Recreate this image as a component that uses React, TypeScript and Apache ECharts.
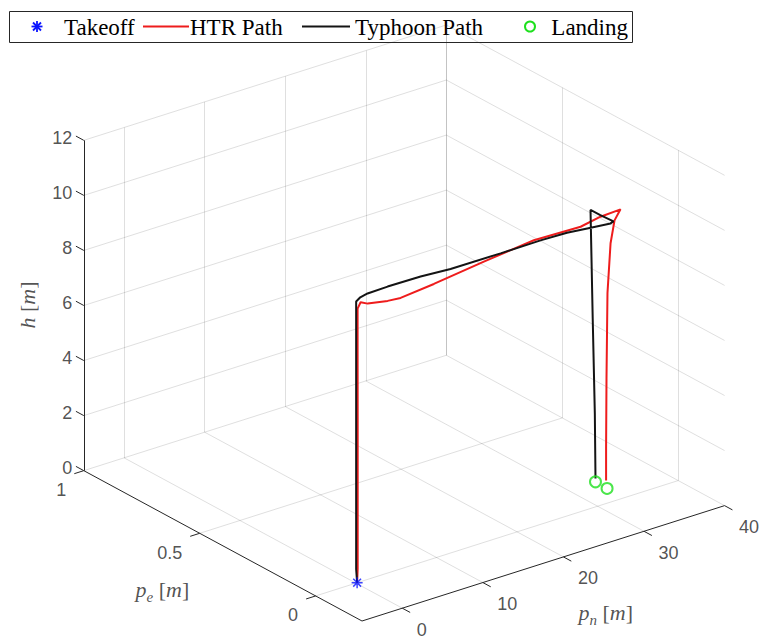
import React, { useEffect, useRef } from 'react';
import * as echarts from 'echarts';

const W = 764;
const H = 639;

// Axis limits and ticks
const pnLim = [-5, 40];
const peLim = [-0.2, 1];
const hLim = [0, 12];
const pnTicks = [0, 10, 20, 30, 40];
const pnTickLabels = ['0', '10', '20', '30', '40'];
const peTicks = [0, 0.5, 1];
const peTickLabels = ['0', '0.5', '1'];
const hTicks = [0, 2, 4, 6, 8, 10, 12];
const hTickLabels = ['0', '2', '4', '6', '8', '10', '12'];

// Takeoff point [p_n, p_e, h]
const takeoff = [0.15, 0, 0];

// HTR path
const htrPn = [0.15, 0.22, 0.22, 0.22, 0.21, 0.21, 0.58, 1.57, 4.28, 6.12, 10.54, 17.32, 23.96, 30.19, 32.8, 35.43, 34.4, 33.85, 33.41, 33.26, 33.18, 33.18];
const htrPe = [0, 0, 0, 0, 0, 0, 0, 0.004, 0.012, 0.02, 0.03, 0.05, 0.065, 0.08, 0.085, 0.09, 0.08, 0.078, 0.076, 0.075, 0.074, 0.074];
const htrH = [0, 0.5, 3, 6, 8.5, 9.95, 10.15, 9.99, 9.8, 9.7, 9.75, 9.84, 9.93, 9.77, 9.87, 9.87, 9.61, 8.84, 7.08, 4.0, 1.46, 0.3];

// Typhoon path
const typPn = [0.15, 0.03, 0.03, 0.03, 0.03, 0.03, 0.6, 1.56, 4.28, 8.72, 12.78, 19.54, 24.93, 28.5, 31.3, 34.48, 34.85, 33.5, 32.57, 32.9, 33.25, 33.36];
const typPe = [0, 0, 0, 0, 0, 0, 0.002, 0.004, 0.012, 0.024, 0.036, 0.055, 0.07, 0.08, 0.09, 0.1, 0.1, 0.11, 0.12, 0.122, 0.125, 0.126];
const typH = [0, 0.5, 3, 6, 9, 10.23, 10.32, 10.36, 10.32, 10.22, 10.06, 9.91, 9.81, 9.71, 9.56, 9.4, 9.44, 9.75, 9.98, 6.0, 2.5, 0.12];

// Landing points
const landPn = [33.36, 33.3];
const landPe = [0.126, 0.074];
const landH = [0, 0];

// View (azimuth / elevation) and plot box size in px
const AZ = (-37.5 * Math.PI) / 180;
const EL = (24.5 * Math.PI) / 180;
const BOX = [457, 457, 363];

type P3 = [number, number, number];

function project(p: P3): [number, number] {
  const X = ((p[0] - pnLim[0]) / (pnLim[1] - pnLim[0])) * BOX[0];
  const Y = ((p[1] - peLim[0]) / (peLim[1] - peLim[0])) * BOX[1];
  const Z = ((p[2] - hLim[0]) / (hLim[1] - hLim[0])) * BOX[2];
  const sx = Math.cos(AZ) * X + Math.sin(AZ) * Y;
  const sy = -Math.sin(EL) * Math.sin(AZ) * X + Math.sin(EL) * Math.cos(AZ) * Y + Math.cos(EL) * Z;
  return [sx, sy];
}

function pathData(pn: number[], pe: number[], h: number[]) {
  return pn.map((v, i) => project([v, pe[i], h[i]]));
}

function seg(a: P3, b: P3) {
  return { coords: [project(a), project(b)] };
}

// Grid lines on floor and the two back walls
const gridSegs: any[] = [];
pnTicks.forEach((t) => {
  gridSegs.push(seg([t, peLim[0], hLim[0]], [t, peLim[1], hLim[0]]));
  gridSegs.push(seg([t, peLim[1], hLim[0]], [t, peLim[1], hLim[1]]));
});
peTicks.forEach((t) => {
  gridSegs.push(seg([pnLim[0], t, hLim[0]], [pnLim[1], t, hLim[0]]));
  gridSegs.push(seg([pnLim[1], t, hLim[0]], [pnLim[1], t, hLim[1]]));
});
hTicks.forEach((t) => {
  if (t === hLim[0]) return;
  gridSegs.push(seg([pnLim[0], peLim[1], t], [pnLim[1], peLim[1], t]));
  gridSegs.push(seg([pnLim[1], peLim[0], t], [pnLim[1], peLim[1], t]));
});

// Axis lines and tick marks
const axisSegs: any[] = [
  seg([pnLim[0], peLim[1], hLim[0]], [pnLim[0], peLim[1], hLim[1]]),
  seg([pnLim[0], peLim[0], hLim[0]], [pnLim[0], peLim[1], hLim[0]]),
  seg([pnLim[0], peLim[0], hLim[0]], [pnLim[1], peLim[0], hLim[0]]),
];
hTicks.forEach((t) => axisSegs.push(seg([pnLim[0], peLim[1], t], [pnLim[0], peLim[1] + 0.034, t])));
peTicks.forEach((t) => axisSegs.push(seg([pnLim[0], t, hLim[0]], [pnLim[0] - 1.18, t, hLim[0]])));
pnTicks.forEach((t) => axisSegs.push(seg([t, peLim[0], hLim[0]], [t, peLim[0] - 0.034, hLim[0]])));

const TICK_FONT = {
  fontFamily: 'Liberation Sans, Arial, sans-serif',
  fontSize: 18,
  color: '#262626',
};

const MATH_RICH = {
  i: { fontFamily: 'Liberation Serif, serif', fontStyle: 'italic', fontSize: 22, color: '#262626', lineHeight: 26 },
  s: { fontFamily: 'Liberation Serif, serif', fontStyle: 'italic', fontSize: 15, color: '#262626', lineHeight: 26, verticalAlign: 'bottom', padding: [0, 0, -2, 0] },
  n: { fontFamily: 'Liberation Serif, serif', fontSize: 22, color: '#262626', lineHeight: 26 },
};

function labelSeries(points: { value: [number, number]; name: string }[], label: any) {
  return {
    type: 'scatter',
    silent: true,
    symbolSize: 1,
    itemStyle: { color: 'transparent' },
    data: points,
    z: 6,
    label: { show: true, formatter: '{b}', ...label },
  };
}

const asterisk =
  'path://M-0.8,-6H0.8V6H-0.8Z M-6,-0.8H6V0.8H-6Z M-4.81,-3.68L-3.68,-4.81L4.81,3.68L3.68,4.81Z M3.68,-4.81L4.81,-3.68L-3.68,4.81L-4.81,3.68Z';

const LEGEND_FONT = '23px "Liberation Serif", serif';

function buildOption(): any {
  return {
    animation: false,
    backgroundColor: '#ffffff',
    grid: { left: 0, top: 0, width: W, height: H, containLabel: false },
    xAxis: { type: 'value', min: -362, max: W - 362, show: false },
    yAxis: { type: 'value', min: -18, max: H - 18, show: false },
    series: [
      {
        type: 'lines',
        coordinateSystem: 'cartesian2d',
        silent: true,
        z: 1,
        lineStyle: { color: 'rgba(38,38,38,0.15)', width: 1, opacity: 1 },
        data: gridSegs,
      },
      {
        type: 'lines',
        coordinateSystem: 'cartesian2d',
        silent: true,
        z: 2,
        lineStyle: { color: '#262626', width: 1, opacity: 1 },
        data: axisSegs,
      },
      {
        name: 'HTR Path',
        type: 'line',
        z: 3,
        showSymbol: false,
        symbol: 'none',
        clip: false,
        lineStyle: { color: '#ee1c1c', width: 2 },
        data: pathData(htrPn, htrPe, htrH),
      },
      {
        name: 'Typhoon Path',
        type: 'line',
        z: 4,
        showSymbol: false,
        symbol: 'none',
        clip: false,
        lineStyle: { color: '#141414', width: 2 },
        data: pathData(typPn, typPe, typH),
      },
      {
        name: 'Takeoff',
        type: 'scatter',
        z: 5,
        symbol: asterisk,
        symbolSize: 11,
        itemStyle: { color: '#0a14ff' },
        data: [project(takeoff as P3)],
      },
      {
        name: 'Landing',
        type: 'scatter',
        z: 5,
        symbol: 'circle',
        symbolSize: 11,
        itemStyle: { color: 'transparent', borderColor: '#1ee01e', borderWidth: 2 },
        data: pathData(landPn, landPe, landH),
      },
      labelSeries(
        hTicks.map((t, i) => ({ value: project([pnLim[0], peLim[1], t]), name: hTickLabels[i] })),
        { ...TICK_FONT, position: [-11, -2], align: 'right', verticalAlign: 'middle' }
      ),
      labelSeries(
        peTicks.map((t, i) => ({ value: project([pnLim[0], t, hLim[0]]), name: peTickLabels[i] })),
        { ...TICK_FONT, position: [-17, 20], align: 'right', verticalAlign: 'middle' }
      ),
      labelSeries(
        pnTicks.map((t, i) => ({ value: project([t, peLim[0], hLim[0]]), name: pnTickLabels[i] })),
        { ...TICK_FONT, position: [15, 22], align: 'left', verticalAlign: 'middle' }
      ),
      labelSeries(
        [{ value: project([pnLim[0], 0.4, hLim[0]]), name: 'pe' }],
        { formatter: '{i|p}{s|e}{n| [}{i|m}{n|]}', rich: MATH_RICH, position: [-60, 44], align: 'center', verticalAlign: 'middle' }
      ),
      labelSeries(
        [{ value: project([17.5, peLim[0], hLim[0]]), name: 'pn' }],
        { formatter: '{i|p}{s|n}{n| [}{i|m}{n|]}', rich: MATH_RICH, position: [63, 50], align: 'center', verticalAlign: 'middle' }
      ),
      labelSeries(
        [{ value: project([pnLim[0], peLim[1], 6]), name: 'h' }],
        { formatter: '{i|h}{n| [}{i|m}{n|]}', rich: MATH_RICH, position: [-56, 0], align: 'center', verticalAlign: 'middle', rotate: 90 }
      ),
    ],
    graphic: [
      {
        type: 'group',
        z: 100,
        children: [
          {
            type: 'rect',
            shape: { x: 9.5, y: 11.5, width: 623, height: 31 },
            style: { fill: '#ffffff', stroke: '#262626', lineWidth: 1 },
          },
          {
            type: 'group',
            x: 37,
            y: 26.5,
            children: [
              { type: 'line', shape: { x1: 0, y1: -5.5, x2: 0, y2: 5.5 }, style: { stroke: '#0a14ff', lineWidth: 1.8 } },
              { type: 'line', shape: { x1: -5.5, y1: 0, x2: 5.5, y2: 0 }, style: { stroke: '#0a14ff', lineWidth: 1.8 } },
              { type: 'line', shape: { x1: -4, y1: -4, x2: 4, y2: 4 }, style: { stroke: '#0a14ff', lineWidth: 1.8 } },
              { type: 'line', shape: { x1: -4, y1: 4, x2: 4, y2: -4 }, style: { stroke: '#0a14ff', lineWidth: 1.8 } },
            ],
          },
          { type: 'text', x: 64, y: 27, style: { text: 'Takeoff', font: LEGEND_FONT, fill: '#000', verticalAlign: 'middle' } },
          { type: 'line', shape: { x1: 143, y1: 26.5, x2: 189, y2: 26.5 }, style: { stroke: '#ee1c1c', lineWidth: 2 } },
          { type: 'text', x: 190, y: 27, style: { text: 'HTR Path', font: LEGEND_FONT, fill: '#000', verticalAlign: 'middle' } },
          { type: 'line', shape: { x1: 302, y1: 26.5, x2: 350, y2: 26.5 }, style: { stroke: '#141414', lineWidth: 2 } },
          { type: 'text', x: 355, y: 27, style: { text: 'Typhoon Path', font: LEGEND_FONT, fill: '#000', verticalAlign: 'middle' } },
          { type: 'circle', shape: { cx: 530, cy: 26.5, r: 5 }, style: { fill: 'none', stroke: '#1ee01e', lineWidth: 2 } },
          { type: 'text', x: 628, y: 27, style: { text: 'Landing', font: LEGEND_FONT, fill: '#000', align: 'right', verticalAlign: 'middle' } },
        ],
      },
    ],
  };
}

export default function App() {
  const ref = useRef<HTMLDivElement>(null);
  useEffect(() => {
    if (!ref.current) return;
    const chart = echarts.init(ref.current, null, { renderer: 'svg' });
    chart.setOption(buildOption());
    return () => chart.dispose();
  }, []);
  return (
    <div
      ref={ref}
      style={{ position: 'fixed', left: 0, top: 0, width: W, height: H, background: '#ffffff' }}
    />
  );
}
